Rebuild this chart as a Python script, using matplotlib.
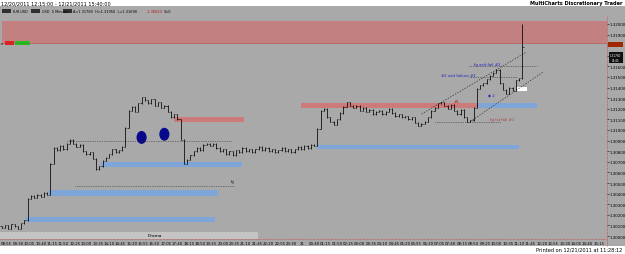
import matplotlib
matplotlib.use("Agg")
import matplotlib.pyplot as plt
from matplotlib.patches import Rectangle, Ellipse
from matplotlib.lines import Line2D

# 10-minute closes of EUR.USD (bar k sits at 5-min index 2k)
closes = [
    1.3008, 1.3010, 1.3007, 1.3011, 1.3009, 1.3007, 1.3012, 1.3015, 1.3035, 1.3038,
    1.3036, 1.3039, 1.3037, 1.3041, 1.3039, 1.3068, 1.3083, 1.3081, 1.3085, 1.3082,
    1.3087, 1.3091, 1.3087, 1.3084, 1.3086, 1.3080, 1.3077, 1.3079, 1.3073, 1.3063,
    1.3066, 1.3071, 1.3074, 1.3077, 1.3082, 1.3079, 1.3081, 1.3084, 1.3102, 1.3118,
    1.3122, 1.3117, 1.3125, 1.3131, 1.3128, 1.3125, 1.3129, 1.3123, 1.3126, 1.3121,
    1.3123, 1.3117, 1.3112, 1.3115, 1.3110, 1.3091, 1.3068, 1.3072, 1.3076, 1.3080,
    1.3083, 1.3081, 1.3086, 1.3087, 1.3085, 1.3087, 1.3083, 1.3080, 1.3082, 1.3077,
    1.3080, 1.3076, 1.3081, 1.3079, 1.3083, 1.3080, 1.3082, 1.3079, 1.3082, 1.3084,
    1.3081, 1.3083, 1.3080, 1.3082, 1.3079, 1.3081, 1.3083, 1.3080, 1.3082, 1.3079,
    1.3082, 1.3084, 1.3082, 1.3085, 1.3083, 1.3086, 1.3085, 1.3101, 1.3118, 1.3120,
    1.3112, 1.3108, 1.3105, 1.3110, 1.3116, 1.3122, 1.3126, 1.3123, 1.3121, 1.3123,
    1.3118, 1.3121, 1.3117, 1.3119, 1.3115, 1.3117, 1.3118, 1.3115, 1.3117, 1.3120,
    1.3116, 1.3113, 1.3115, 1.3112, 1.3113, 1.3110, 1.3112, 1.3107, 1.3104, 1.3106,
    1.3108, 1.3112, 1.3118, 1.3121, 1.3125, 1.3126, 1.3123, 1.3120, 1.3124, 1.3118,
    1.3115, 1.3119, 1.3112, 1.3108, 1.3109, 1.3121, 1.3139, 1.3142, 1.3144, 1.3148,
    1.3151, 1.3154, 1.3157, 1.3144, 1.3138, 1.3134, 1.3140, 1.3137, 1.3147, 1.3149,
    1.3178,
]
spike_high = 1.3200
first_open = 1.3009

# drawn zones: (start idx, end idx, low price, high price, colour)
zones = [
    (0, 372, 1.3181, 1.3203, "#c28080"),
    (15, 131, 1.3013, 1.3018, "#7ea6d8"),
    (29, 133, 1.3038, 1.3043, "#7ea6d8"),
    (61, 148, 1.3065, 1.3070, "#7ea6d8"),
    (106, 149, 1.3108, 1.3112, "#cc7a7a"),
    (184, 293, 1.3121, 1.3125, "#cc7a7a"),
    (293, 329, 1.3121, 1.3125, "#7ea6d8"),
    (194, 318, 1.3082, 1.3086, "#7ea6d8"),
]
# dotted levels: (start idx, end idx, price)
dotted = [(40, 141, 1.3090), (45, 143, 1.3047), (266, 307, 1.3108),
          (287, 329, 1.3160), (287, 317, 1.3150)]
# channel lines: (idx0, p0, idx1, p1)
channel = [(258, 1.3115, 322, 1.3173), (288, 1.3108, 333, 1.3155)]
circles_x = [86, 100]
circles_p = [1.3093, 1.3096]
notes = [(278, 1.3127, "#1", "#cc1010"), (299, 1.3133, "\u25c6 2", "#2020c0"),
         (290, 1.3162, "fg exit fail #2", "#2020c0"),
         (270, 1.3152, "#2 exit failure #1", "#2020c0"),
         (300, 1.3110, "fg tst fail #1", "#a04040"), (141, 1.3052, "fg", "#202020")]
price_ticks = [1.300 + 0.001 * i for i in range(21)]
hidden_ticks = [17, 18]  # labels covered by the price tags

bg = "#a9a9a9"
W, H = 625, 255
fig = plt.figure(figsize=(6.25, 2.55), dpi=100)
fig.patch.set_facecolor("white")
fig.add_artist(Rectangle((0, 1 - 247 / H), 1, 240 / H, transform=fig.transFigure,
                         facecolor=bg, edgecolor="none", zorder=-10))

ax = fig.add_axes([0, (H - 240) / H, 607 / W, 223 / H])
ax.set_facecolor(bg)
ax.set_xlim(-1, 372)
ax.set_ylim(1.29972, 1.32075)
for s in ax.spines.values():
    s.set_visible(False)

for x0, x1, lo, hi, c in zones:
    ax.add_patch(Rectangle((x0, lo), x1 - x0, hi - lo, facecolor=c, edgecolor="none"))
for x0, x1, p in dotted:
    ax.plot([x0, x1], [p, p], ls=(0, (1, 1.5)), color="#303030", lw=0.5)
for x0, p0, x1, p1 in channel:
    ax.plot([x0, x1], [p0, p1], ls=(0, (2, 2)), color="#303030", lw=0.5)
for cx, cp in zip(circles_x, circles_p):
    ax.add_patch(Ellipse((cx, cp), 6.2, 0.00122, facecolor="#08088a", edgecolor="none"))
for nx_, np_, t, c in notes:
    ax.text(nx_, np_, t, fontsize=2.8, color=c, va="center")

# OHLC bars
opens = [first_open] + closes[:-1]
xs = [2 * k for k in range(len(closes))]
highs = [max(o, c) + 0.00005 for o, c in zip(opens, closes)]
lows = [min(o, c) - 0.00005 for o, c in zip(opens, closes)]
highs[-1] = spike_high
ax.vlines(xs, lows, highs, color="black", lw=0.55)
ax.hlines(opens, [x - 0.7 for x in xs], xs, color="black", lw=0.45)
ax.hlines(closes, xs, [x + 0.7 for x in xs], color="black", lw=0.45)

# current price box
ax.add_patch(Rectangle((317, 1.3137), 6, 0.0004, facecolor="white", edgecolor="none"))

# price axis
ax.yaxis.tick_right()
ax.set_yticks(price_ticks)
ax.set_yticklabels(["" if i in hidden_ticks else f"{p:.5f}"
                    for i, p in enumerate(price_ticks)])
ax.tick_params(axis="y", labelsize=2.9, length=1.2, pad=0.8, width=0.4)

# time axis, 35-minute ticks from 08:40 on 12/20
tick_idx = list(range(3, 372, 7))
time_labels = []
for i in tick_idx:
    m = (8 * 60 + 40 + 5 * i) % (24 * 60)
    time_labels.append(f"{m // 60:02d}:{m % 60:02d}")
time_labels[tick_idx.index(185)] = "21"
ax.set_xticks(tick_idx)
ax.set_xticklabels(time_labels)
ax.tick_params(axis="x", labelsize=2.8, length=0, pad=1.8)

# drama pane strip
ax.add_patch(Rectangle((0, 0), 258 / 607, 7 / 223, transform=ax.transAxes,
                       facecolor="#c4c4c4", edgecolor="none"))
ax.text(155 / 607, 3.5 / 223, "Drama", transform=ax.transAxes, fontsize=3.2,
        ha="center", va="center")

# red dotted borders
fig.add_artist(Line2D([607 / W, 607 / W], [1 - 247 / H, 1 - 17 / H], transform=fig.transFigure,
                      color="#d04040", lw=0.5, ls=(0, (1, 1))))
fig.add_artist(Line2D([0, 607 / W], [1 - 240 / H, 1 - 240 / H], transform=fig.transFigure,
                      color="#d04040", lw=0.5, ls=(0, (1, 1))))
fig.add_artist(Line2D([0, 607 / W], [1 - 44 / H, 1 - 44 / H], transform=fig.transFigure,
                      color="#a04040", lw=0.4, ls=(0, (1, 1))))

def ftext(x, y, s, **kw):
    fig.text(x / W, 1 - y / H, s, va="center", **kw)

ftext(1, 4, "12/20/2011 12:15:00 - 12/21/2011 15:40:00", fontsize=3.6)
ftext(622, 4, "MultiCharts Discretionary Trader", fontsize=3.6, ha="right", weight="bold")
ftext(622, 250, "Printed on 12/21/2011 at 11:28:12", fontsize=3.6, ha="right")

# toolbar
for bx in (2, 31, 63):
    fig.add_artist(Rectangle((bx / W, 1 - 14 / H), 9 / W, 4 / H, transform=fig.transFigure,
                             facecolor="#303030", edgecolor="none"))
ftext(13, 12, "EUR.USD", fontsize=2.5)
ftext(42, 12, "USD  5 Minutes", fontsize=2.5)
ftext(73, 12, "A=1.31780  H=1.31950  L=1.31690", fontsize=2.5)
ftext(147, 12, "-1.30023", fontsize=2.5, color="#b01010")
ftext(164, 12, "V=0", fontsize=2.5)

# small left tags at top band bottom
fig.add_artist(Rectangle((5 / W, 1 - 46 / H), 9 / W, 4 / H, transform=fig.transFigure,
                         facecolor="#e02020", edgecolor="none"))
fig.add_artist(Rectangle((15 / W, 1 - 46 / H), 15 / W, 4 / H, transform=fig.transFigure,
                         facecolor="#20c020", edgecolor="none"))
ftext(1, 44, "x", fontsize=2.5)

# right price tags
fig.add_artist(Rectangle((608 / W, 1 - 48 / H), 15 / W, 5 / H, transform=fig.transFigure,
                         facecolor="#a02800", edgecolor="none"))
fig.add_artist(Rectangle((609 / W, 1 - 64 / H), 14 / W, 11 / H, transform=fig.transFigure,
                         facecolor="#101010", edgecolor="none"))
ftext(610, 56, "1.31760", fontsize=2.0, color="white")
ftext(612, 61.5, "01:40", fontsize=1.9, color="white")

fig.savefig("out.png", dpi=100)
